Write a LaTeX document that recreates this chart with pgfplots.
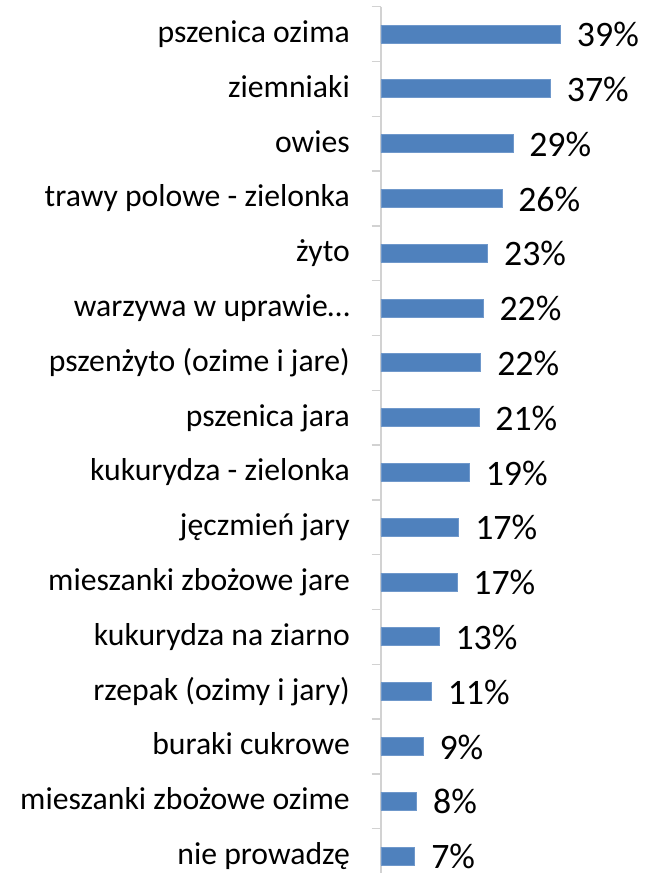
\documentclass[border=0pt]{standalone}
\usepackage{fontspec}
\setmainfont{Carlito}
\usepackage{pgfplots}
\pgfplotsset{compat=1.18}
\definecolor{barblue}{HTML}{4F81BD}
\definecolor{baredge}{HTML}{6F98CB}
\begin{document}
\begin{tikzpicture}
\begin{axis}[
  at={(381bp,866.4bp)}, anchor=north west,
  scale only axis,
  width=256.5bp, height=866.4bp,
  xbar, bar width=18bp,
  xmin=0, xmax=56,
  ymin=-0.5, ymax=15.31,
  y dir=reverse,
  axis x line=none,
  axis y line*=left,
  y axis line style={draw=gray!35, line width=1.4bp},
  ytick={0,...,15},
  yticklabels={pszenica ozima, ziemniaki, owies, trawy polowe - zielonka, żyto, warzywa w uprawie…, pszenżyto (ozime i jare), pszenica jara, kukurydza - zielonka, jęczmień jary, mieszanki zbożowe jare, kukurydza na ziarno, rzepak (ozimy i jary), buraki cukrowe, mieszanki zbożowe ozime, nie prowadzę},
  major tick length=0pt,
  minor ytick={-0.5,0.5,...,14.5},
  minor tick length=9.5bp,
  tick align=outside,
  minor tick style={draw=gray!35, line width=1.4bp},
  yticklabel style={font=\fontsize{31.7bp}{38bp}\selectfont, anchor=base east, inner sep=0pt, xshift=-31bp, yshift=-8.5bp, text=black},
  point meta=explicit symbolic,
  nodes near coords={\pgfplotspointmeta\%},
  nodes near coords style={font=\fontsize{35.8bp}{42bp}\selectfont, anchor=base west, inner sep=0pt, xshift=16bp, yshift=-12.7bp, text=black},
  clip=false,
]
\addplot[fill=barblue, draw=baredge, line width=0.8bp] coordinates {
 (39.2,0) [39]
 (37.0,1) [37]
 (28.8,2) [29]
 (26.4,3) [26]
 (23.3,4) [23]
 (22.3,5) [22]
 (21.8,6) [22]
 (21.4,7) [21]
 (19.3,8) [19]
 (17.0,9) [17]
 (16.6,10) [17]
 (12.7,11) [13]
 (11.0,12) [11]
 (9.2,13) [9]
 (7.8,14) [8]
 (7.4,15) [7]
};
\end{axis}
\pgfresetboundingbox
\path (0,0) rectangle (646bp,873bp);
\end{tikzpicture}
\end{document}
